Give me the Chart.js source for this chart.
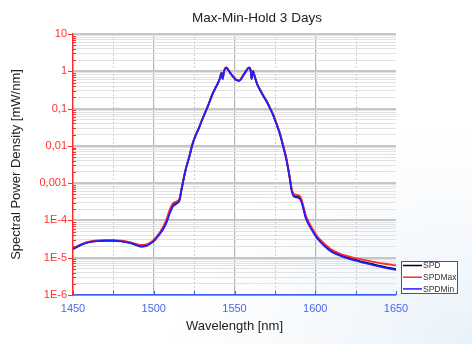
<!DOCTYPE html>
<html>
<head>
<meta charset="utf-8">
<script src="https://cdn.jsdelivr.net/npm/chart.js@4.4.1/dist/chart.umd.min.js"></script>
<style>
    html, body {
        margin: 0;
        padding: 0;
        width: 472px;
        height: 344px;
        overflow: hidden;
        background: radial-gradient(ellipse at 100% 100%, #e9f2f9 0%, #f7fafd 25%, #ffffff 45%);
    }
    #spectrumChart { display: block; }
</style>
</head>
<body>
<canvas id="spectrumChart" width="472" height="344"></canvas>
<script>
    // wavelength grid [nm]
    const wavelengths = [
        1450, 1453, 1456, 1460, 1465, 1470, 1475, 1480, 1485, 1489,
        1492, 1495, 1498, 1500, 1502, 1504, 1506, 1508, 1510, 1512,
        1514, 1516, 1517, 1518, 1519, 1520, 1522, 1524, 1526, 1528,
        1530, 1532, 1534, 1536, 1538, 1540, 1541, 1542, 1542.7, 1543.4,
        1545, 1546, 1547, 1549, 1551, 1553, 1555, 1557, 1559, 1560,
        1560.6, 1561.4, 1562.5, 1564, 1566, 1568, 1570, 1572, 1574, 1576,
        1578, 1580, 1582, 1584, 1585.5, 1587, 1589, 1591, 1592.5, 1594,
        1595.5, 1597, 1599, 1601, 1603, 1606, 1610, 1615, 1620, 1625,
        1630, 1635, 1640, 1645, 1650
    ];

    // spectral power density [mW/nm]
    const spd = [
        1.72e-5, 2.0e-5, 2.3e-5, 2.62e-5, 2.82e-5, 2.88e-5, 2.87e-5, 2.77e-5, 2.52e-5, 2.22e-5,
        2.02e-5, 2.08e-5, 2.45e-5, 2.85e-5, 3.6e-5, 4.6e-5, 6.2e-5, 9.5e-5, 1.7e-4, 2.55e-4,
        2.95e-4, 3.6e-4, 6.1e-4, 1.0e-3, 1.65e-3, 2.55e-3, 5.1e-3, 1.12e-2, 1.95e-2, 3.05e-2,
        5.1e-2, 8.1e-2, 0.132, 0.225, 0.345, 0.51, 0.66, 0.91, 0.63, 0.96,
        1.26, 1.11, 0.96, 0.73, 0.59, 0.56, 0.73, 0.99, 1.26, 1.06,
        0.63, 1.01, 0.73, 0.46, 0.31, 0.215, 0.155, 0.102, 0.067, 0.039,
        0.022, 0.0105, 4.7e-3, 1.6e-3, 6.3e-4, 4.5e-4, 4.3e-4, 3.7e-4, 2.3e-4, 1.28e-4,
        9.0e-5, 6.8e-5, 4.8e-5, 3.55e-5, 2.8e-5, 2.08e-5, 1.5e-5, 1.2e-5, 1.0e-5, 8.7e-6,
        7.6e-6, 6.8e-6, 6.0e-6, 5.4e-6, 4.9e-6
    ];

    const spdMax = [
        1.8e-5, 2.1e-5, 2.4e-5, 2.7e-5, 2.9e-5, 2.95e-5, 2.95e-5, 2.85e-5, 2.6e-5, 2.35e-5,
        2.2e-5, 2.25e-5, 2.6e-5, 3.0e-5, 3.8e-5, 5.0e-5, 7.0e-5, 1.1e-4, 2.0e-4, 2.9e-4,
        3.2e-4, 3.9e-4, 6.5e-4, 1.05e-3, 1.7e-3, 2.6e-3, 5.2e-3, 1.15e-2, 2.0e-2, 3.1e-2,
        5.2e-2, 8.3e-2, 0.135, 0.23, 0.35, 0.52, 0.67, 0.92, 0.64, 0.97,
        1.27, 1.12, 0.97, 0.75, 0.6, 0.57, 0.74, 1.0, 1.27, 1.08,
        0.65, 1.02, 0.75, 0.47, 0.32, 0.22, 0.16, 0.105, 0.07, 0.041,
        0.023, 0.011, 5.0e-3, 1.7e-3, 6.8e-4, 5.0e-4, 4.8e-4, 4.2e-4, 2.6e-4, 1.45e-4,
        1.0e-4, 7.5e-5, 5.3e-5, 3.9e-5, 3.1e-5, 2.3e-5, 1.65e-5, 1.3e-5, 1.1e-5, 9.7e-6,
        8.7e-6, 7.9e-6, 7.2e-6, 6.7e-6, 6.2e-6
    ];

    const spdMin = [
        1.7e-5, 2.0e-5, 2.3e-5, 2.6e-5, 2.8e-5, 2.85e-5, 2.85e-5, 2.75e-5, 2.5e-5, 2.2e-5,
        2.0e-5, 2.05e-5, 2.4e-5, 2.8e-5, 3.5e-5, 4.5e-5, 6.0e-5, 9.0e-5, 1.6e-4, 2.4e-4,
        2.8e-4, 3.5e-4, 6.0e-4, 1.0e-3, 1.6e-3, 2.5e-3, 5.0e-3, 1.1e-2, 1.9e-2, 3.0e-2,
        5.0e-2, 8.0e-2, 0.13, 0.22, 0.34, 0.5, 0.65, 0.9, 0.62, 0.95,
        1.25, 1.1, 0.95, 0.72, 0.58, 0.55, 0.72, 0.98, 1.25, 1.05,
        0.62, 1.0, 0.72, 0.45, 0.3, 0.21, 0.15, 0.1, 0.065, 0.038,
        0.021, 0.01, 4.5e-3, 1.5e-3, 6.0e-4, 4.3e-4, 4.1e-4, 3.5e-4, 2.2e-4, 1.2e-4,
        8.5e-5, 6.5e-5, 4.6e-5, 3.4e-5, 2.7e-5, 2.0e-5, 1.45e-5, 1.15e-5, 9.6e-6, 8.3e-6,
        7.3e-6, 6.5e-6, 5.8e-6, 5.2e-6, 4.7e-6
    ];

    const seriesNames = ['SPD', 'SPDMax', 'SPDMin'];
    const seriesColors = ['#000000', '#ff2a2a', '#1f1fff'];

    // decade ticks of the log axis and their labels
    const yDecades = [1e-6, 1e-5, 1e-4, 1e-3, 1e-2, 1e-1, 1, 10];
    const yTickLabels = ['1E-6', '1E-5', '1E-4', '0,001', '0,01', '0,1', '1', '10'];

    const xTicks = [1450, 1475, 1500, 1525, 1550, 1575, 1600, 1625, 1650];
    const xTickLabels = ['1450', '', '1500', '', '1550', '', '1600', '', '1650'];

    const chartTitle = 'Max-Min-Hold 3 Days';

    const PLOT_LEFT = 73;
    const PLOT_TOP = 34;
    const X_AXIS_HEIGHT = 49;

    function buildYTicks() {
        const ticks = [];
        yDecades.forEach((d, i) => {
            ticks.push({ value: d, text: yTickLabels[i], major: true });
            if (i < yDecades.length - 1) {
                for (let m = 2; m <= 9; m++) {
                    ticks.push({ value: d * m, text: '', major: false });
                }
            }
        });
        return ticks;
    }

    function toPoints(values) {
        return wavelengths.map((w, i) => ({ x: w, y: values[i] }));
    }

    // title, dotted minor grid, axis tick marks and the boxed legend
    const decorations = {
        id: 'decorations',
        beforeDatasetsDraw(chart) {
            const { ctx, chartArea, scales } = chart;
            ctx.save();
            ctx.strokeStyle = '#cfcfcf';
            ctx.lineWidth = 1;
            ctx.setLineDash([2, 2]);
            xTicks.forEach((v, i) => {
                if (xTickLabels[i] !== '') return;
                const px = Math.round(scales.x.getPixelForValue(v)) + 0.5;
                ctx.beginPath();
                ctx.moveTo(px, chartArea.top);
                ctx.lineTo(px, chartArea.bottom);
                ctx.stroke();
            });
            ctx.restore();
        },
        afterDraw(chart) {
            const { ctx, chartArea, scales } = chart;
            ctx.save();

            ctx.fillStyle = '#222222';
            ctx.font = '13.5px Arial, "Liberation Sans", sans-serif';
            ctx.textAlign = 'center';
            ctx.textBaseline = 'middle';
            ctx.fillText(chartTitle, 257, 18);

            ctx.strokeStyle = '#ff2a2a';
            ctx.lineWidth = 1;
            scales.y.ticks.forEach(t => {
                const py = Math.round(scales.y.getPixelForValue(t.value)) + 0.5;
                ctx.beginPath();
                if (t.major) {
                    ctx.moveTo(chartArea.left - 5, py);
                    ctx.lineTo(chartArea.left, py);
                } else {
                    ctx.moveTo(chartArea.left - 1, py);
                    ctx.lineTo(chartArea.left + 3, py);
                }
                ctx.stroke();
            });

            ctx.strokeStyle = '#3a5cff';
            xTicks.forEach(v => {
                const px = Math.round(scales.x.getPixelForValue(v)) + 0.5;
                ctx.beginPath();
                ctx.moveTo(px, chartArea.bottom);
                ctx.lineTo(px, chartArea.bottom - 4);
                ctx.stroke();
            });

            // legend box
            const bx = 401.5, by = 261.5, bw = 56, bh = 32;
            ctx.fillStyle = '#ffffff';
            ctx.fillRect(bx, by, bw, bh);
            ctx.strokeStyle = '#555555';
            ctx.lineWidth = 1;
            ctx.strokeRect(bx, by, bw, bh);
            ctx.font = '8.5px Arial, "Liberation Sans", sans-serif';
            ctx.textAlign = 'left';
            ctx.textBaseline = 'middle';
            seriesNames.forEach((name, i) => {
                const ly = 265.5 + i * 11.7;
                ctx.strokeStyle = seriesColors[i];
                ctx.lineWidth = 1.5;
                ctx.beginPath();
                ctx.moveTo(403, ly);
                ctx.lineTo(422, ly);
                ctx.stroke();
                ctx.fillStyle = '#333333';
                ctx.fillText(name, 423, ly + 0.5);
            });
            ctx.restore();
        }
    };

    function createChart() {
        Chart.defaults.font.family = 'Arial, "Liberation Sans", sans-serif';
        Chart.defaults.color = '#222';

        const datasets = seriesNames.map((name, i) => ({
            label: name,
            data: toPoints([spd, spdMax, spdMin][i]),
            borderColor: seriesColors[i],
            borderWidth: 1.8,
            pointRadius: 0,
            cubicInterpolationMode: 'monotone',
            fill: false,
            order: 2 - i
        }));

        const ctx = document.getElementById('spectrumChart').getContext('2d');
        new Chart(ctx, {
            type: 'line',
            data: { datasets: datasets },
            options: {
                responsive: false,
                animation: false,
                layout: { padding: { left: 0, right: 76, top: PLOT_TOP, bottom: 0 } },
                scales: {
                    x: {
                        type: 'linear',
                        min: 1450,
                        max: 1650,
                        afterBuildTicks: scale => {
                            scale.ticks = xTicks.map((v, i) => ({ value: v, text: xTickLabels[i] }));
                        },
                        afterFit: scale => { scale.height = X_AXIS_HEIGHT; },
                        ticks: {
                            autoSkip: false,
                            maxRotation: 0,
                            padding: 7,
                            color: '#4a66ee',
                            font: { size: 11 },
                            callback: (value, i, ticks) => ticks[i].text
                        },
                        grid: {
                            drawTicks: false,
                            color: c => (c.tick && c.tick.text && c.tick.value !== 1450 && c.tick.value !== 1650) ? '#b4b4b4' : 'rgba(0,0,0,0)',
                            lineWidth: 1.2
                        },
                        border: { color: '#3a5cff', width: 1.5 },
                        title: {
                            display: true,
                            text: 'Wavelength [nm]',
                            color: '#222',
                            font: { size: 13 },
                            padding: { top: 0, bottom: 9.6 }
                        }
                    },
                    y: {
                        type: 'logarithmic',
                        min: 1e-6,
                        max: 10,
                        afterBuildTicks: scale => { scale.ticks = buildYTicks(); },
                        afterFit: scale => { scale.width = PLOT_LEFT; },
                        ticks: {
                            autoSkip: false,
                            padding: 6,
                            color: '#ff3030',
                            font: { size: 11 },
                            callback: (value, i, ticks) => ticks[i].text
                        },
                        grid: {
                            drawTicks: false,
                            color: c => (c.tick && c.tick.major) ? '#c6c6c6' : '#e2e2e2',
                            lineWidth: c => (c.tick && c.tick.major) ? 2 : 1
                        },
                        border: { color: '#ff2a2a', width: 1.5 },
                        title: {
                            display: true,
                            text: 'Spectral Power Density [mW/nm]',
                            color: '#222',
                            font: { size: 13 },
                            padding: { top: 9, bottom: 0 }
                        }
                    }
                },
                plugins: {
                    legend: { display: false },
                    tooltip: { enabled: false },
                    title: { display: false }
                }
            },
            plugins: [decorations]
        });
    }

    window.onload = createChart;
</script>
</body>
</html>
